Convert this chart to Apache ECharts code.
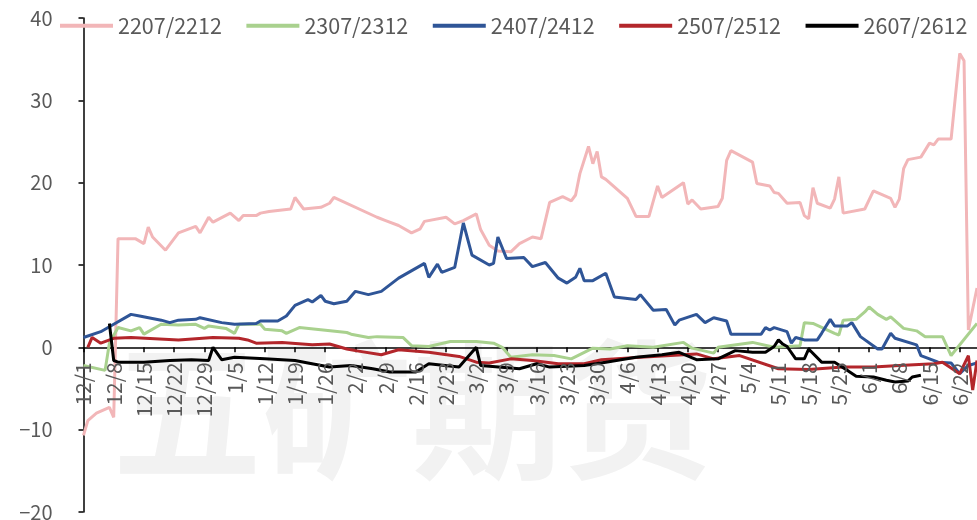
<!DOCTYPE html>
<html>
<head>
<meta charset="utf-8">
<script src="https://cdn.jsdelivr.net/npm/echarts@6/dist/echarts.min.js"></script>
<style>
  html, body { margin: 0; padding: 0; background: #fff; }
  #chart { width: 977px; height: 520px; }
</style>
</head>
<body>
<div id="chart"></div>
<script>
// calendar days 12/1 .. 6/26 on the x axis
const monthDays = [[12, 31], [1, 31], [2, 28], [3, 31], [4, 30], [5, 31], [6, 26]]
const days = []
monthDays.forEach(([m, n]) => {
  for (let d = 1; d <= n; d++) days.push(m + '/' + d)
})

const names = ['2207/2212', '2307/2312', '2407/2412', '2507/2512', '2607/2612']
const colors = ['#f2b6b8', '#a9d18e', '#2f5597', '#b3262b', '#000000']

const d2207 = ['12/1', '12/2', '12/4', '12/7', '12/8', '12/9', '12/13', '12/15', '12/16', '12/17', '12/20', '12/23', '12/27', '12/28', '12/30', '12/31',
  '1/4', '1/6', '1/7', '1/10', '1/11', '1/13', '1/18', '1/19', '1/21', '1/25', '1/27', '1/28',
  '2/7', '2/9', '2/12', '2/15', '2/17', '2/18', '2/23', '2/25', '2/27',
  '3/2', '3/3', '3/5', '3/7', '3/10', '3/12', '3/15', '3/17', '3/19', '3/22', '3/24', '3/25', '3/26', '3/28', '3/29', '3/30', '3/31',
  '4/1', '4/6', '4/8', '4/11', '4/13', '4/14', '4/19', '4/20', '4/21', '4/23', '4/27', '4/28', '4/29', '4/30',
  '5/5', '5/6', '5/9', '5/10', '5/11', '5/13', '5/16', '5/17', '5/18', '5/19', '5/20', '5/23', '5/24', '5/25', '5/26', '5/31',
  '6/2', '6/6', '6/7', '6/8', '6/9', '6/10', '6/13', '6/15', '6/16', '6/17', '6/20', '6/22', '6/23', '6/24', '6/26']
const v2207 = [-10.7, -8.9, -8.0, -7.3, -8.5, 13.2, 13.2, 12.6, 14.6, 13.4, 11.8, 13.9, 14.7, 13.9, 15.8, 15.2,
  16.3, 15.4, 16.0, 16.0, 16.3, 16.5, 16.8, 18.2, 16.8, 17.0, 17.5, 18.2,
  15.8, 15.4, 14.8, 13.9, 14.4, 15.3, 15.8, 15.0, 15.4,
  16.2, 14.3, 12.4, 11.7, 11.6, 12.6, 13.4, 13.2, 17.6, 18.3, 17.8, 18.5, 21.1, 24.4, 22.3, 23.8, 20.7,
  20.4, 18.1, 15.9, 15.9, 19.6, 18.2, 20.0, 17.4, 17.9, 16.8, 17.1, 18.1, 22.7, 23.9,
  22.5, 19.9, 19.6, 18.8, 18.7, 17.5, 17.6, 16.0, 15.6, 19.4, 17.5, 16.9, 18.0, 20.7, 16.3, 16.8,
  19.0, 18.1, 17.0, 18.0, 21.7, 22.8, 23.1, 24.8, 24.6, 25.3, 25.3, 35.7, 34.8, 2.1, 7.2]

const d2307 = ['12/1', '12/6', '12/7', '12/9', '12/12', '12/14', '12/15', '12/19', '12/23', '12/27', '12/29', '12/30',
  '1/3', '1/5', '1/6', '1/11', '1/12', '1/16', '1/17', '1/20', '1/31',
  '2/1', '2/5', '2/7', '2/13', '2/15', '2/19', '2/24',
  '3/2', '3/6', '3/8', '3/10', '3/15', '3/20', '3/24', '3/29',
  '4/2', '4/6', '4/12', '4/19', '4/21', '4/26', '4/27',
  '5/5', '5/10', '5/16', '5/17', '5/19', '5/24', '5/25', '5/26', '5/29', '5/31',
  '6/1', '6/3', '6/5', '6/6', '6/9', '6/12', '6/14', '6/18', '6/20', '6/26']
const v2307 = [-2.2, -2.8, 0.5, 2.4, 2.0, 2.4, 1.6, 2.8, 2.7, 2.8, 2.3, 2.6,
  2.3, 1.7, 2.8, 2.8, 2.2, 2.0, 1.7, 2.4, 1.8,
  1.6, 1.2, 1.3, 1.2, 0.2, 0.1, 0.7,
  0.7, 0.5, 0.0, -1.2, -0.9, -1.0, -1.4, -0.1,
  -0.2, 0.2, 0.0, 0.6, -0.1, -0.7, 0.0,
  0.6, 0.0, 0.2, 3.0, 2.9, 1.7, 1.5, 3.3, 3.4, 4.3,
  4.9, 4.0, 3.4, 3.7, 2.3, 2.0, 1.3, 1.3, -1.0, 2.9]

const d2407 = ['12/1', '12/5', '12/8', '12/12', '12/14', '12/19', '12/21', '12/23', '12/27', '12/28',
  '1/2', '1/5', '1/10', '1/11', '1/15', '1/17', '1/19', '1/22', '1/23', '1/25', '1/26', '1/28', '1/31',
  '2/2', '2/5', '2/8', '2/12', '2/18', '2/19', '2/21', '2/22', '2/25', '2/27',
  '3/1', '3/5', '3/6', '3/7', '3/9', '3/13', '3/15', '3/18', '3/21', '3/23', '3/25', '3/26', '3/27', '3/29',
  '4/1', '4/3', '4/8', '4/9', '4/12', '4/15', '4/17', '4/18', '4/22', '4/24', '4/26', '4/29', '4/30',
  '5/7', '5/8', '5/9', '5/10', '5/13', '5/14', '5/15', '5/17', '5/20', '5/21', '5/23', '5/24', '5/27', '5/28', '5/30',
  '6/3', '6/4', '6/6', '6/7', '6/12', '6/13', '6/17', '6/20', '6/22', '6/24', '6/26']
const v2407 = [1.2, 1.9, 2.8, 4.0, 3.8, 3.3, 3.0, 3.3, 3.4, 3.6,
  3.0, 2.8, 2.9, 3.2, 3.2, 3.8, 5.1, 5.8, 5.5, 6.3, 5.6, 5.3, 5.6,
  6.8, 6.4, 6.8, 8.4, 10.2, 8.5, 10.1, 9.1, 9.7, 15.1,
  11.2, 10.0, 10.2, 13.4, 10.8, 10.9, 9.8, 10.3, 8.4, 7.8, 8.5, 9.6, 8.1, 8.1,
  9.0, 6.1, 5.8, 6.4, 4.5, 4.6, 2.7, 3.3, 4.0, 3.0, 3.6, 3.2, 1.6,
  1.6, 2.4, 2.1, 2.4, 1.9, 0.5, 1.2, 0.9, 0.9, 1.7, 3.4, 2.6, 2.6, 3.0, 1.3,
  -0.2, -0.2, 1.7, 1.1, 0.3, -1.0, -1.8, -1.9, -3.2, -2.2, -1.9]

const d2507 = ['12/2', '12/3', '12/5', '12/8', '12/12', '12/23', '12/31',
  '1/6', '1/8', '1/10', '1/16', '1/23', '1/27', '1/31',
  '2/2', '2/8', '2/12', '2/19', '2/26',
  '3/2', '3/5', '3/10', '3/15', '3/21', '3/27', '3/31',
  '4/9', '4/16', '4/22', '4/26',
  '5/2', '5/11', '5/18', '5/26',
  '6/2', '6/8', '6/16', '6/18', '6/22', '6/24', '6/25', '6/26']
const v2507 = [0.0, 1.2, 0.5, 1.1, 1.2, 0.9, 1.2,
  1.1, 0.9, 0.5, 0.6, 0.3, 0.4, -0.2,
  -0.4, -0.9, -0.3, -0.6, -1.1,
  -1.8, -1.9, -1.4, -1.6, -2.0, -2.0, -1.5,
  -1.2, -1.0, -0.8, -1.4,
  -1.0, -2.6, -2.7, -2.4,
  -2.4, -2.2, -2.0, -1.8, -3.2, -1.0, -5.2, -1.6]

const d2607 = ['12/7', '12/8', '12/9', '12/15', '12/21', '12/26', '12/30', '12/31',
  '1/2', '1/5', '1/12', '1/19', '1/22', '1/27',
  '2/1', '2/6', '2/10', '2/16', '2/19', '2/26',
  '3/2', '3/3', '3/12', '3/16', '3/19', '3/27',
  '4/1', '4/8', '4/14', '4/18', '4/22', '4/27',
  '5/1', '5/5', '5/8', '5/10', '5/11', '5/12', '5/13', '5/15', '5/17', '5/18', '5/21', '5/24', '5/27', '5/29',
  '6/2', '6/5', '6/7', '6/10', '6/11', '6/13']
const v2607 = [2.9, -1.6, -1.8, -1.8, -1.6, -1.5, -1.6, 0.0,
  -1.5, -1.2, -1.4, -1.6, -1.9, -2.4,
  -2.2, -2.6, -3.0, -3.0, -2.0, -2.4,
  0.0, -2.2, -2.6, -2.0, -2.4, -2.2,
  -1.8, -1.2, -0.9, -0.6, -1.5, -1.4,
  -0.4, -0.6, -0.6, 0.1, 0.9, 0.4, 0.1, -1.4, -1.4, -0.2, -1.8, -1.8, -2.8, -3.5,
  -3.6, -4.0, -4.2, -4.1, -3.6, -3.4]

const yTicks = [-20, -10, 0, 10, 20, 30, 40]

const dates = [d2207, d2307, d2407, d2507, d2607]
const values = [v2207, v2307, v2407, v2507, v2607]

const labelColor = '#595959'
const font = '"Noto Sans CJK SC", "Noto Sans", sans-serif'
const dateFont = '21px "Noto Sans CJK SC", "Noto Sans", sans-serif'

// plot box in px
const gridLeft = 83.5
const gridTop = 18
const gridBottom = 8
const plotHeight = 520 - gridTop - gridBottom
const yMin = yTicks[0]
const yMax = yTicks[yTicks.length - 1]
// height from the top of the plot down to the zero line, where the date axis sits
const zeroHeight = plotHeight * (yMax - 0) / (yMax - yMin)

const watermark = {
  type: 'text',
  left: 112,
  top: 335,
  z: 0,
  silent: true,
  style: {
    text: '五矿期货',
    font: 'bold 150px "Noto Sans CJK SC"',
    fill: '#f2f2f2',
  },
}

const chart = echarts.init(document.getElementById('chart'))

const option = {
  animation: false,
  textStyle: { fontFamily: font },
  graphic: [watermark],
  legend: {
    data: names,
    left: 55,
    top: 10,
    width: 930,
    icon: 'rect',
    itemWidth: 53,
    itemHeight: 4,
    itemGap: 24.5,
    textStyle: { fontSize: 21.5, color: labelColor, fontFamily: font },
  },
  grid: [
    { left: gridLeft, right: 0, top: gridTop, bottom: gridBottom, outerBoundsMode: 'none' },
    { left: gridLeft, right: 0, top: gridTop, height: zeroHeight, outerBoundsMode: 'none' },
  ],
  xAxis: [
    {
      gridIndex: 0,
      type: 'category',
      boundaryGap: false,
      data: days,
      show: false,
    },
    {
      // date axis line + weekly ticks: the bottom of grid 1 is the zero line
      gridIndex: 1,
      type: 'category',
      boundaryGap: false,
      data: days,
      axisLine: { lineStyle: { color: '#000', width: 1.5 } },
      axisTick: { show: true, interval: 6, length: 5, lineStyle: { color: '#000', width: 1.5 } },
      axisLabel: { show: false },
      splitLine: { show: false },
    },
  ],
  yAxis: [
    {
      gridIndex: 0,
      type: 'value',
      min: yMin,
      max: yMax,
      interval: 10,
      axisLine: { show: true, lineStyle: { color: '#000', width: 1.5 } },
      axisTick: { show: true, length: 5, lineStyle: { color: '#000', width: 1.5 } },
      axisLabel: {
        margin: 31,
        fontSize: 20,
        color: labelColor,
        formatter: (v) => String(v).replace('-', '\u2212'),
      },
      splitLine: { show: false },
    },
    {
      gridIndex: 1,
      type: 'value',
      min: 0,
      max: yMax,
      axisLine: { show: false },
      axisTick: { show: false },
      axisLabel: { show: false },
      splitLine: { show: false },
    },
  ],
  series: names.map((name, i) => ({
    name: name,
    type: 'line',
    symbol: 'none',
    z: 2 + i,
    lineStyle: { color: colors[i], width: 3 },
    itemStyle: { color: colors[i] },
    data: dates[i].map((d, j) => [d, values[i][j]]),
  })),
}

chart.setOption(option)

// weekly date labels hanging under the zero line, placed through the chart's own scales.
// centred on their own length so the rotation sense cannot push them above the line
const ctx = document.createElement('canvas').getContext('2d')
ctx.font = dateFont
const dateLabels = []
days.forEach((d, i) => {
  if (i % 7 !== 0) return
  const [px, py] = chart.convertToPixel({ gridIndex: 0 }, [i, 0])
  const w = ctx.measureText(d).width
  dateLabels.push({
    type: 'text',
    x: px,
    y: py + 15 + w / 2,
    rotation: Math.PI / 2,
    silent: true,
    z: 10,
    style: {
      text: d,
      font: dateFont,
      fill: labelColor,
      align: 'center',
      verticalAlign: 'middle',
    },
  })
})
chart.setOption({ graphic: [watermark, ...dateLabels] })
</script>
</body>
</html>
